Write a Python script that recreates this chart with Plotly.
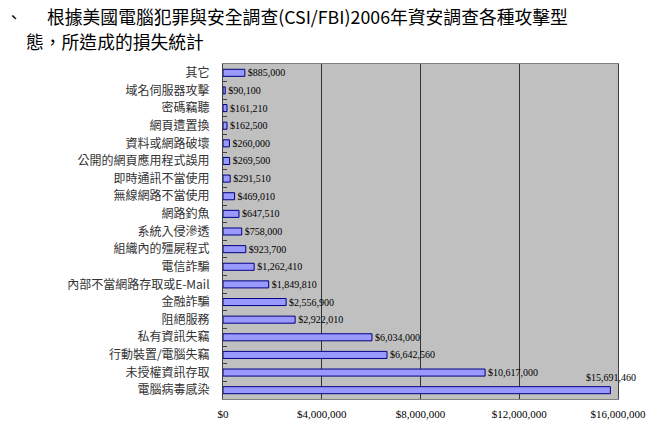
import plotly.graph_objects as go

categories = [
    "其它", "域名伺服器攻擊", "密碼竊聽", "網頁遭置換", "資料或網路破壞",
    "公開的網頁應用程式誤用", "即時通訊不當使用", "無線網路不當使用", "網路釣魚",
    "系統入侵滲透", "組織內的殭屍程式", "電信詐騙", "內部不當網路存取或E-Mail",
    "金融詐騙", "阻絕服務", "私有資訊失竊", "行動裝置/電腦失竊", "未授權資訊存取",
    "電腦病毒感染",
]
losses = [
    885000, 90100, 161210, 162500, 260000, 269500, 291510, 469010, 647510,
    758000, 923700, 1262410, 1849810, 2556900, 2922010, 6034000, 6642560,
    10617000, 15691460,
]
x_ticks = [0, 4000000, 8000000, 12000000, 16000000]
title_line1 = "根據美國電腦犯罪與安全調查(CSI/FBI)2006年資安調查各種攻擊型"
title_line2 = "態，所造成的損失統計"

labels = ["${:,}".format(v) for v in losses]
tick_text = ["${:,}".format(v) for v in x_ticks]
positions = ["outside"] * (len(losses) - 1) + ["none"]

W, H = 660, 429
pl, pr, pt, pb = 223, 42, 64, 30
pw, ph = W - pl - pr, H - pt - pb
def px(xp):
    return (xp - pl) / pw
def py(yp):
    return (H - pb - yp) / ph

fig = go.Figure()
fig.add_trace(go.Bar(
    x=losses, y=categories, orientation="h",
    marker=dict(color="#9999FF", line=dict(color="#000080", width=1)),
    width=0.4,
    text=labels, textposition=positions, constraintext="none",
    textfont=dict(family="Liberation Serif", size=10, color="#000000"),
    cliponaxis=False,
))

# label for the largest bar sits above it (no room on the right)
fig.add_annotation(
    x=losses[-1], y=categories[-1], text=labels[-1], showarrow=False,
    xanchor="right", xshift=28, yshift=13,
    font=dict(family="Liberation Serif", size=10, color="#000000"),
)
fig.add_annotation(x=px(4), y=py(16), xref="paper", yref="paper", text="、",
                   showarrow=False, xanchor="left", yanchor="middle",
                   font=dict(family="Noto Sans CJK TC", size=16, color="#000"))
fig.add_annotation(x=px(45), y=py(16), xref="paper", yref="paper", text=title_line1,
                   showarrow=False, xanchor="left", yanchor="middle",
                   font=dict(family="Noto Sans CJK TC", size=17.8, color="#000"))
fig.add_annotation(x=px(24), y=py(41), xref="paper", yref="paper", text=title_line2,
                   showarrow=False, xanchor="left", yanchor="middle",
                   font=dict(family="Noto Sans CJK TC", size=17.8, color="#000"))

fig.update_layout(
    width=W, height=H,
    margin=dict(l=pl, r=pr, t=pt, b=pb, autoexpand=False),
    paper_bgcolor="white", plot_bgcolor="#C0C0C0",
    showlegend=False,
    font=dict(family="Noto Sans CJK TC", color="#000000"),
)

fig.update_xaxes(
    range=[0, 16000000], tickvals=x_ticks, ticktext=tick_text,
    showgrid=True, gridcolor="#333333", gridwidth=1,
    zeroline=False, showline=True, linecolor="#808080", mirror=True,
    ticks="outside", ticklen=5, tickcolor="rgba(0,0,0,0)", automargin=False,
    tickfont=dict(family="Liberation Serif", size=11, color="#000000"),
    fixedrange=True,
)
fig.update_yaxes(
    range=[18.5, -0.5], categoryorder="array", categoryarray=categories,
    showline=True, linecolor="#404040", mirror=True,
    ticks="inside", ticklen=4, tickcolor="#404040", tickson="boundaries",
    ticklabelstandoff=10, automargin=False,
    tickfont=dict(family="Noto Sans CJK TC", size=12, color="#333333"),
    showgrid=False, fixedrange=True,
)

fig.write_html("out.html")
